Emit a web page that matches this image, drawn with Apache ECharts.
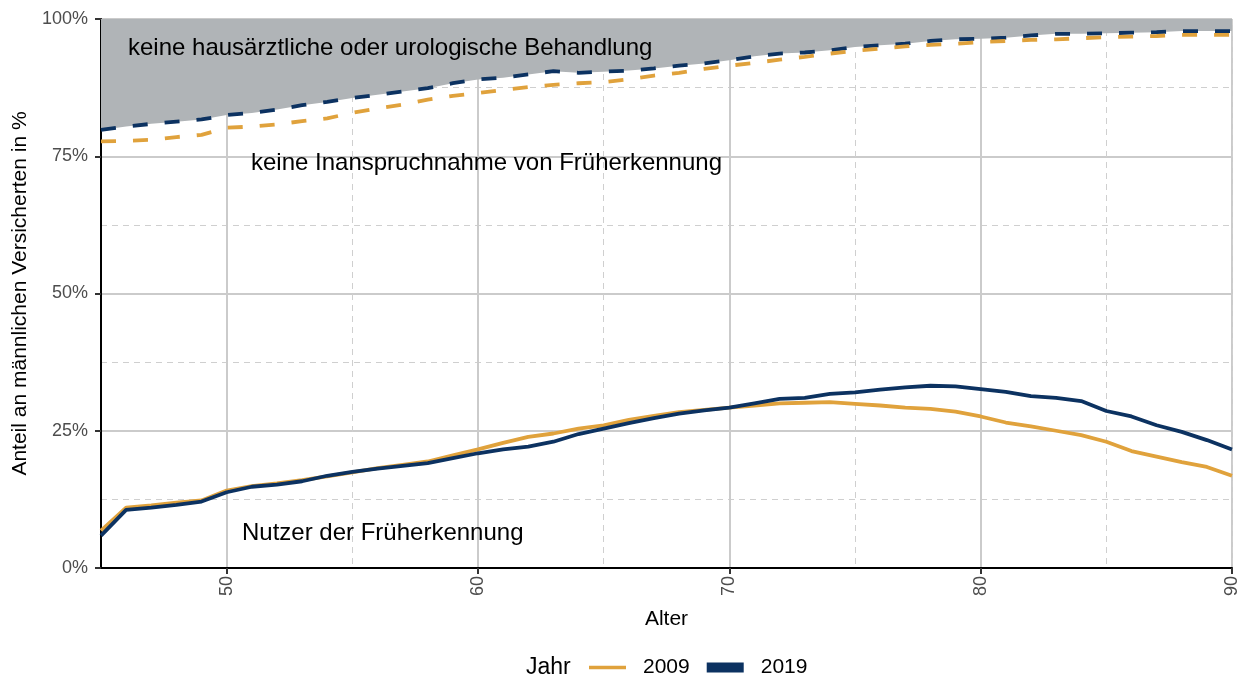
<!DOCTYPE html>
<html>
<head>
<meta charset="utf-8">
<script src="https://cdn.jsdelivr.net/npm/echarts@6/dist/echarts.min.js"></script>
<style>
  html, body { margin: 0; padding: 0; background: #fff; }
  #chart { width: 1258px; height: 681px; }
</style>
</head>
<body>
<div id="chart"></div>
<script>
// Alter (x-Achse)
const ages = [45, 46, 47, 48, 49, 50, 51, 52, 53, 54, 55, 56, 57, 58, 59, 60, 61, 62, 63, 64, 65, 66, 67,
  68, 69, 70, 71, 72, 73, 74, 75, 76, 77, 78, 79, 80, 81, 82, 83, 84, 85, 86, 87, 88, 89, 90]

// obere Grenze: Anteil mit hausärztlicher/urologischer Behandlung (gestrichelt)
const behandlung2009 = [77.7, 77.8, 78.0, 78.5, 78.9, 80.2, 80.4, 80.8, 81.4, 81.9, 82.9, 83.7, 84.4,
  85.3, 86.0, 86.5, 87.1, 87.6, 88.0, 88.3, 88.5, 89.0, 89.7, 90.2, 90.9, 91.5, 92.0, 92.6, 93.1, 93.7,
  94.2, 94.6, 95.0, 95.3, 95.5, 95.8, 96.0, 96.2, 96.3, 96.5, 96.7, 96.8, 96.9, 97.1, 97.1, 97.1]
const behandlung2019 = [79.8, 80.4, 80.9, 81.3, 81.7, 82.5, 82.9, 83.5, 84.3, 84.9, 85.6, 86.2, 86.8,
  87.4, 88.3, 89.0, 89.3, 89.9, 90.5, 90.2, 90.4, 90.6, 91.0, 91.5, 91.9, 92.5, 93.2, 93.7, 93.9, 94.3,
  94.9, 95.2, 95.5, 96.0, 96.3, 96.4, 96.6, 97.0, 97.3, 97.3, 97.4, 97.5, 97.6, 97.8, 97.8, 97.8]

// Nutzer der Früherkennung (durchgezogen)
const nutzer2009 = [6.8, 11.0, 11.4, 11.9, 12.3, 14.1, 14.9, 15.4, 16.0, 16.7, 17.4, 18.2, 18.8, 19.4,
  20.5, 21.6, 22.8, 23.9, 24.5, 25.4, 26.0, 27.0, 27.7, 28.4, 28.8, 29.2, 29.6, 30.0, 30.1, 30.2, 29.9,
  29.6, 29.2, 29.0, 28.5, 27.6, 26.5, 25.8, 25.0, 24.2, 23.0, 21.3, 20.3, 19.3, 18.4, 16.8]
const nutzer2019 = [5.9, 10.6, 11.0, 11.5, 12.1, 13.8, 14.8, 15.2, 15.8, 16.8, 17.5, 18.1, 18.6, 19.1,
  20.0, 20.9, 21.6, 22.1, 23.0, 24.4, 25.4, 26.4, 27.3, 28.1, 28.7, 29.2, 30.0, 30.8, 31.0, 31.7, 32.0,
  32.5, 32.9, 33.2, 33.1, 32.6, 32.1, 31.3, 31.0, 30.4, 28.6, 27.6, 26.0, 24.8, 23.3, 21.6]

const xLabels = [50, 60, 70, 80, 90]

const GOLD = '#e0a23c'
const NAVY = '#0c3261'
const AREA = '#b0b4b7'
const FONT = '"Liberation Sans", Arial, sans-serif'

const pairs = vals => ages.map((a, i) => [a, vals[i]])

const chart = echarts.init(document.getElementById('chart'))

function lineSeries(name, color, vals, dashed, extra) {
  return Object.assign({
    name: name,
    type: 'line',
    data: pairs(vals),
    symbol: 'none',
    showSymbol: false,
    itemStyle: { color: color },
    lineStyle: {
      color: color,
      width: 3.8,
      type: dashed ? [15, 17] : 'solid',
      cap: 'butt'
    }
  }, extra || {})
}

function label(text, left, top, size) {
  return {
    type: 'text',
    left: left,
    top: top,
    z: 100,
    style: { text: text, fontSize: size, fill: '#000', fontFamily: FONT }
  }
}

const option = {
  animation: false,
  textStyle: { fontFamily: FONT },
  grid: { left: 101, right: 26, top: 19, bottom: 113, containLabel: false },
  xAxis: [
    {
      type: 'value',
      min: 45,
      max: 90,
      name: 'Alter',
      nameLocation: 'middle',
      nameGap: 41,
      nameTextStyle: { fontSize: 21, color: '#000', fontFamily: FONT },
      axisLine: { lineStyle: { color: '#000', width: 2 } },
      axisTick: { customValues: xLabels, length: 6, lineStyle: { color: '#333', width: 2 } },
      axisLabel: {
        customValues: xLabels,
        rotate: 90,
        fontSize: 18,
        color: '#4d4d4d',
        margin: 8,
        fontFamily: FONT
      },
      splitLine: { show: true, lineStyle: { color: '#cbcbcb', width: 2 } }
    },
    {
      // nur Zwischenlinien bei 55, 65, 75, 85
      type: 'value',
      min: 45,
      max: 90,
      interval: 10,
      position: 'bottom',
      axisLine: { show: false },
      axisTick: { show: false },
      axisLabel: { show: false },
      splitLine: { show: true, lineStyle: { color: '#cfcfcf', width: 1, type: [6, 5] } }
    }
  ],
  yAxis: {
    type: 'value',
    min: 0,
    max: 100,
    interval: 25,
    name: 'Anteil an männlichen Versicherten in %',
    nameLocation: 'middle',
    nameGap: 65,
    nameTextStyle: { fontSize: 21, color: '#000', fontFamily: FONT },
    axisLine: { show: true, lineStyle: { color: '#000', width: 2 } },
    axisTick: { show: true, length: 6, lineStyle: { color: '#333', width: 2 } },
    axisLabel: { formatter: '{value}%', fontSize: 18, color: '#4d4d4d', margin: 13, fontFamily: FONT },
    splitLine: { show: true, lineStyle: { color: '#cbcbcb', width: 2 } },
    minorTick: { show: false, splitNumber: 2 },
    minorSplitLine: { show: true, lineStyle: { color: '#cfcfcf', width: 1, type: [6, 5] } }
  },
  legend: {
    left: 584,
    top: 652,
    itemWidth: 37,
    itemHeight: 10,
    itemGap: 17,
    selectedMode: false,
    textStyle: { fontSize: 21, color: '#000', fontFamily: FONT, padding: [0, 0, 0, 12] },
    data: [
      { name: '2009', icon: 'path://M0,0 M37,10 M0,3.2 L37,3.2 L37,6.8 L0,6.8 Z', itemStyle: { color: GOLD, borderWidth: 0 } },
      { name: '2019', icon: 'rect', itemStyle: { color: NAVY, borderWidth: 0 } }
    ]
  },
  graphic: [
    label('keine hausärztliche oder urologische Behandlung', 128, 36, 24),
    label('keine Inanspruchnahme von Früherkennung', 251, 151, 24),
    label('Nutzer der Früherkennung', 242, 521, 24),
    label('Jahr', 526, 656, 23)
  ],
  series: [
    lineSeries('2009', GOLD, behandlung2009, true, { z: 3 }),
    lineSeries('2019', NAVY, behandlung2019, true, {
      z: 2,
      areaStyle: { origin: 'end', color: AREA, opacity: 1 }
    }),
    lineSeries('2009', GOLD, nutzer2009, false, { z: 4 }),
    lineSeries('2019', NAVY, nutzer2019, false, { z: 5 })
  ]
}

chart.setOption(option)
window.addEventListener('resize', () => chart.resize())
</script>
</body>
</html>
